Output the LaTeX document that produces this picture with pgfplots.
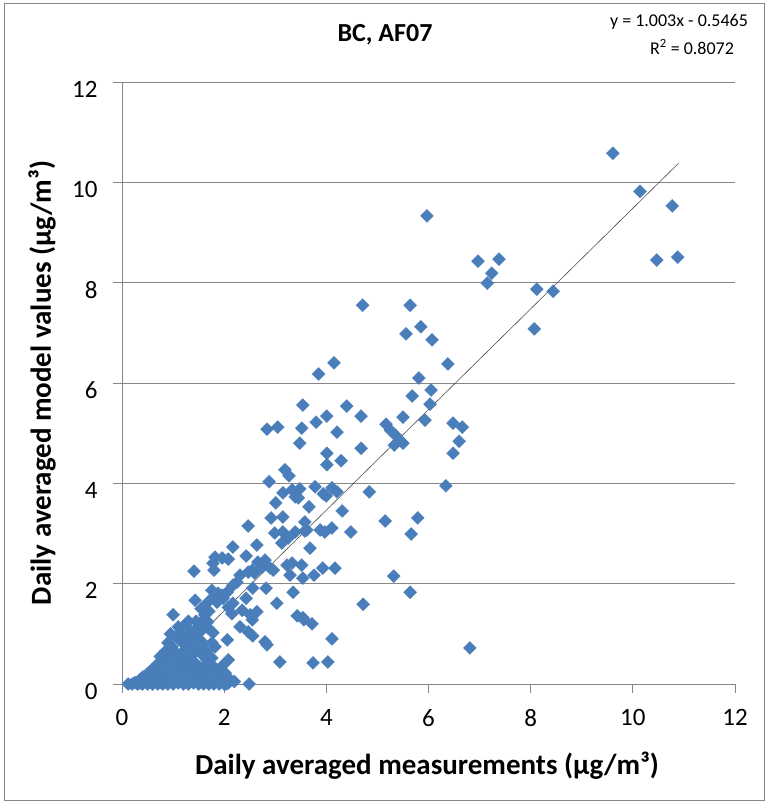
\documentclass[border=0pt]{standalone}
\usepackage{fontspec}
\setmainfont{Carlito}
\usepackage{pgfplots}
\pgfplotsset{compat=1.18}
\definecolor{mk}{RGB}{74,126,187}
\definecolor{gr}{RGB}{134,134,134}
\begin{document}
\begin{tikzpicture}[x=1pt,y=1pt]
\useasboundingbox (0,0) rectangle (767,-803);
\draw[gr, line width=1pt] (4,-3) rectangle (764,-800);
\begin{axis}[at={(122pt,-684pt)}, anchor=south west, scale only axis,
  width=613pt, height=602pt, xmin=0, xmax=12, ymin=0, ymax=12,
  xtick={0,2,...,12}, ytick={0,2,...,12},
  axis lines*=left, axis line style={gr, line width=1pt},
  tick align=outside, major tick length=9pt, tick style={gr, line width=1pt},
  ymajorgrids, major grid style={gr, line width=1pt},
  /pgf/number format/assume math mode=true,
  ticklabel style={font=\fontsize{25}{30}\selectfont, text=black},
  xticklabel style={yshift=-13pt},
  yticklabel style={xshift=-12pt, yshift=-7pt},
  clip=false]
\addplot[only marks, mark=square*, mark size=4.6pt, mark options={rotate=45, fill=mk, draw=mk, line width=0.3pt}] coordinates {
(9.61,10.58) (10.14,9.82) (10.77,9.53) (10.47,8.45) (10.88,8.51)
(8.12,7.87) (8.44,7.83) (8.07,7.08) (5.97,9.33) (6.97,8.43) (7.38,8.47)
(7.24,8.19) (7.15,7.99) (4.71,7.55) (5.64,7.55) (5.56,6.98) (5.85,7.12)
(6.07,6.86) (4.15,6.40) (3.85,6.18) (6.38,6.38) (5.81,6.10) (6.05,5.86)
(5.68,5.74) (6.03,5.58) (3.54,5.56) (4.40,5.54) (5.50,5.32) (5.93,5.26)
(4.68,5.34) (3.80,5.22) (4.01,5.34) (3.52,5.10) (4.21,5.02) (5.17,5.18)
(5.25,5.06) (5.35,4.96) (5.44,4.86) (5.33,4.76) (5.50,4.80)
(6.48,5.20) (6.66,5.12) (6.60,4.84) (6.48,4.60) (4.68,4.70) (3.48,4.80)
(4.01,4.60) (4.01,4.37) (4.29,4.45) (6.34,3.95)
(3.48,3.89) (3.78,3.93) (3.94,3.79) (4.11,3.91) (4.21,3.83) (4.00,3.75)
(4.84,3.83) (3.66,3.53) (4.31,3.45) (3.58,3.23) (3.62,3.07)
(3.88,3.07) (3.97,3.03) (4.11,3.11) (4.48,3.03) (5.15,3.25) (5.79,3.31)
(5.66,2.99) (3.68,2.71) (3.52,2.37) (3.54,2.11) (3.76,2.17) (3.93,2.31)
(4.17,2.31) (5.32,2.15) (5.64,1.83) (4.72,1.59) (3.56,1.28) (3.72,1.20)
(4.11,0.90) (3.74,0.42) (4.03,0.44) (6.81,0.72)
(2.84,5.08) (3.05,5.12) (3.19,4.27) (3.27,4.15) (2.88,4.03)
(3.15,3.81) (3.33,3.87) (3.39,3.73) (3.45,3.71) (3.01,3.61)
(2.92,3.31) (3.15,3.33) (2.47,3.15)
(2.99,3.01) (3.15,3.03) (3.39,3.03) (3.58,3.05) (3.25,2.91) (3.13,2.81)
(2.17,2.73) (2.64,2.77) (2.43,2.55) (2.08,2.49)
(2.66,2.43) (2.80,2.47) (2.74,2.33) (2.55,2.27) (2.90,2.31) (2.60,2.21) (2.96,2.27)
(2.31,2.17) (2.25,2.03) (2.17,1.97) (2.47,2.23)
(3.23,2.37) (3.33,2.41) (3.29,2.17)
(2.06,1.83) (2.56,1.91) (2.82,1.91) (3.35,1.83)
(2.43,1.71) (2.17,1.61) (3.03,1.61) (2.08,1.53)
(2.15,1.40) (2.35,1.47) (2.51,1.38) (2.64,1.44) (2.55,1.28)
(3.43,1.36) (3.54,1.32)
(2.31,1.14) (2.47,1.04) (2.56,0.96) (2.06,0.88) (2.80,0.84) (2.84,0.78)
(2.08,0.48) (3.09,0.44) (2.08,0.02) (2.49,0.00)
(1.82,2.53) (1.96,2.51) (1.78,2.41) (1.41,2.25) (1.80,2.27)
(1.76,1.87) (1.88,1.81) (1.78,1.73) (1.96,1.77) (1.86,1.63) (1.98,1.71)
(1.43,1.67) (1.00,1.38) (1.10,1.14)
(1.62,1.38) (1.59,1.28) (1.68,1.24)
(1.49,1.14) (1.57,1.08) (1.68,1.12) (1.78,1.02)
(1.27,0.94) (1.37,0.88) (1.19,0.82) (1.33,0.78)
(0.90,0.82) (0.98,0.74) (1.04,0.64)
(1.47,0.68) (1.57,0.58) (1.66,0.48) (1.76,0.52) (1.68,0.42)
(1.76,0.82) (1.82,0.74) (0.78,0.48) (0.88,0.54) (0.69,0.38) (0.74,0.32)
(0.59,0.28) (0.51,0.22) (0.41,0.14)
(1.19,0.28) (1.27,0.34) (1.33,0.24) (1.43,0.18) (1.39,0.28)
(1.66,0.24) (1.82,0.32) (1.86,0.14) (2.02,0.22)
(0.95,0.60) (1.05,0.45) (1.10,0.30) (0.85,0.35) (0.95,0.20) (1.15,0.55)
(1.20,0.65) (1.00,0.10) (0.80,0.15) (0.70,0.10) (0.65,0.20) (1.30,0.50)
(1.45,0.40) (1.55,0.30) (1.60,0.15) (1.50,0.10) (1.25,0.10) (1.70,0.10)
(1.90,0.05) (2.00,0.10) (2.20,0.05)
(1.10,0.90) (1.20,1.00) (1.30,1.10) (1.40,1.00) (1.50,0.90) (1.60,0.80)
(1.50,0.75) (1.40,0.60) (1.30,0.70) (1.20,0.45) (1.35,0.45) (0.55,0.10)
(0.45,0.08) (0.35,0.08) (0.65,0.35) (0.75,0.55) (0.85,0.65) (0.90,0.45)
(1.00,0.35) (1.15,0.15) (1.75,0.30) (1.95,0.35) (2.10,0.10) (1.90,0.25)
(1.65,0.65) (1.55,0.85) (1.45,1.25) (1.30,1.25) (1.55,1.50) (1.65,1.60)
(1.70,1.45) (1.20,1.15) (0.95,1.00) (1.05,0.95)
(0.12,0.00) (0.20,0.00) (0.25,0.03) (0.30,0.00) (0.35,0.02) (0.40,0.00)
(0.45,0.04) (0.50,0.00) (0.55,0.03) (0.60,0.00) (0.70,0.00) (0.75,0.03)
(0.80,0.00) (0.90,0.00) (1.00,0.00) (1.10,0.02) (1.20,0.00) (1.30,0.00)
(1.40,0.02) (1.50,0.00) (1.60,0.00) (1.70,0.00) (1.80,0.00) (1.90,0.00)
(2.00,0.00) (2.04,0.00)
};
\addplot[black!70, line width=0.6pt] coordinates {(0.545,0) (10.90,10.386)};
\end{axis}
\node[font=\bfseries\fontsize{26}{30}\selectfont] at (385,-35) {BC, AF07};
\node[font=\fontsize{18}{22}\selectfont] at (679,-22) {y = 1.003x - 0.5465};
\node[font=\fontsize{18}{22}\selectfont] at (692,-47) {R\textsuperscript{2} = 0.8072};
\node[font=\bfseries\fontsize{29}{34}\selectfont] at (427,-766) {Daily averaged measurements (µg/m³)};
\node[font=\bfseries\fontsize{29}{34}\selectfont, rotate=90] at (42,-383) {Daily averaged model values (µg/m³)};
\end{tikzpicture}
\end{document}
